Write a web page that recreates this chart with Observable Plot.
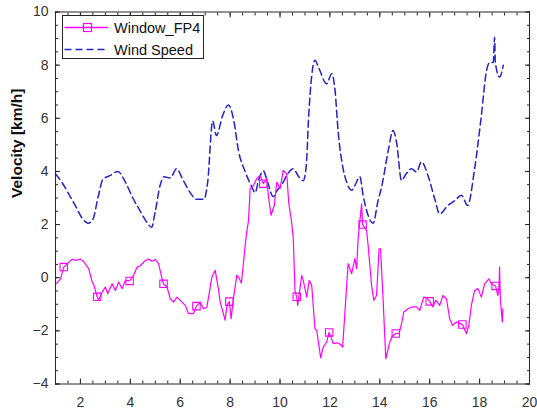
<!DOCTYPE html>
<html>
<head>
<meta charset="utf-8">
<script src="https://cdn.jsdelivr.net/npm/d3@7"></script>
<script src="https://cdn.jsdelivr.net/npm/@observablehq/plot@0.6"></script>
<style>
  html, body { margin: 0; padding: 0; background: #fff; }
  #wrap { position: relative; width: 537px; height: 410px; font-family: "Liberation Sans", Arial, sans-serif; }
  #legend { position: absolute; left: 62px; top: 15px; }
</style>
</head>
<body>
<div id="wrap"></div>
<script>
// ---- Data ----
const seriesNames = ["Window_FP4", "Wind Speed"];
const seriesColors = ["#ff00ff", "#2323c8"];

const windowX = [1.0,1.2,1.33,1.5,1.67,1.8,2.0,2.13,2.33,2.47,2.53,2.67,2.73,2.87,3.0,3.09,3.27,3.4,3.53,3.67,3.8,3.97,4.13,4.27,4.4,4.6,4.73,4.87,5.0,5.13,5.27,5.33,5.47,5.6,5.73,5.87,6.07,6.2,6.33,6.53,6.65,6.8,6.93,7.07,7.27,7.4,7.53,7.6,7.73,7.8,7.87,7.97,8.04,8.13,8.27,8.35,8.45,8.53,8.6,8.67,8.73,8.78,8.8,8.93,9.07,9.2,9.33,9.47,9.53,9.64,9.77,9.87,10.0,10.13,10.27,10.35,10.45,10.53,10.6,10.67,10.71,10.87,10.93,11.07,11.17,11.27,11.4,11.47,11.63,11.73,11.87,11.97,12.03,12.13,12.27,12.4,12.51,12.73,12.87,13.0,13.07,13.13,13.27,13.31,13.47,13.53,13.67,13.76,13.87,13.97,14.03,14.13,14.24,14.4,14.5,14.64,14.77,14.87,14.96,15.13,15.3,15.47,15.6,15.76,15.87,16.0,16.13,16.24,16.4,16.53,16.67,16.8,16.91,17.07,17.2,17.31,17.47,17.57,17.67,17.8,17.93,18.07,18.2,18.37,18.47,18.64,18.73,18.78,18.8,18.83,18.91,18.93];
const windowY = [-0.25,-0.05,0.4,0.55,0.7,0.65,0.7,0.6,0.34,-0.16,-0.25,-0.72,-0.85,-0.54,-0.35,-0.6,-0.23,-0.48,-0.16,-0.41,-0.1,-0.12,0.09,0.4,0.45,0.65,0.7,0.62,0.68,0.53,-0.04,-0.23,-0.35,-0.79,-0.92,-0.73,-0.92,-1.04,-1.35,-1.35,-1.07,-0.92,-1.17,-1.1,0.03,0.28,-0.41,-0.92,-1.35,-1.6,-1.04,-0.9,-1.54,-0.79,0.1,0.0,-0.2,0.5,1.2,1.75,2.1,2.9,3.35,3.47,3.73,3.85,3.54,3.73,3.1,2.35,2.72,3.6,3.35,4.04,3.9,2.8,2.2,1.5,-0.5,-0.72,-1.04,0.09,-0.1,-0.73,-0.1,-0.29,-1.92,-1.98,-3.02,-2.61,-2.42,-2.06,-2.2,-2.48,-2.45,-2.5,-2.61,0.53,0.15,0.72,0.34,1.47,2.78,2.0,1.78,1.22,-0.29,-0.85,-0.67,1.09,1.09,-0.79,-3.05,-2.42,-2.2,-2.1,-2.1,-1.73,-1.29,-1.17,-1.1,-1.1,-1.23,-0.73,-0.75,-0.89,-1.1,-0.85,-1.04,-0.67,-0.79,-1.54,-1.79,-1.67,-1.72,-1.76,-2.1,-1.79,-1.04,-0.48,-0.41,-0.73,-0.23,-0.04,-0.23,-0.31,-0.67,-0.4,0.4,-0.8,-1.67,-1.17];

const markerX = [1.33,2.67,3.97,5.33,6.65,7.97,9.33,10.67,11.97,13.31,14.64,16.0,17.31,18.64];
const markerY = [0.4,-0.72,-0.12,-0.23,-1.07,-0.9,3.54,-0.72,-2.06,2.0,-2.1,-0.89,-1.76,-0.31];

const windX = [1.0,1.25,1.5,1.8,2.1,2.3,2.5,2.7,2.9,3.2,3.5,3.8,4.1,4.4,4.65,4.85,5.0,5.2,5.35,5.6,5.85,6.1,6.4,6.65,6.95,7.1,7.3,7.45,7.7,7.93,8.15,8.33,8.6,8.87,9.0,9.15,9.33,9.5,9.73,9.9,10.07,10.3,10.53,10.75,10.93,11.05,11.15,11.27,11.4,11.55,11.87,12.07,12.2,12.33,12.53,12.67,12.87,13.0,13.2,13.33,13.53,13.73,13.93,14.07,14.33,14.53,14.67,14.87,15.05,15.27,15.47,15.67,15.93,16.2,16.4,16.73,17.0,17.27,17.52,17.8,18.07,18.27,18.4,18.55,18.6,18.63,18.8,18.95];
const windY = [3.9,3.6,3.2,2.7,2.2,2.05,2.2,3.0,3.7,3.85,4.0,3.6,3.0,2.5,2.1,1.9,2.5,3.5,3.8,3.75,4.1,3.7,3.2,2.95,2.95,3.6,5.9,5.35,6.1,6.5,5.9,4.8,4.0,3.42,3.2,3.7,4.02,3.6,3.05,3.3,3.5,3.9,4.1,3.8,3.65,4.2,6.1,7.6,8.18,7.9,7.3,7.68,7.1,5.5,4.1,3.6,3.29,3.47,3.8,3.1,2.35,2.05,2.9,3.4,4.74,5.54,5.1,3.66,3.9,4.1,3.98,4.36,3.85,2.97,2.4,2.72,2.9,3.1,2.72,4.1,6.1,7.75,8.1,8.1,9.05,8.1,7.55,8.0];

const xTickLabels = [2,4,6,8,10,12,14,16,18,20];
const yTickLabels = [-4,-2,0,2,4,6,8,10];
const xMinorTicks = d3.range(1, 20.001, 0.5);
const yMinorTicks = d3.range(-4, 10.001, 0.5);
const yLabel = "Velocity [km/h]";

// ---- Build tables ----
const windowData = windowX.map((x, i) => ({x, y: windowY[i]}));
const markerData = markerX.map((x, i) => ({x, y: markerY[i]}));
const windData = windX.map((x, i) => ({x, y: windY[i]}));

const axisColor = "#262626";
const blank = () => "";

const chart = Plot.plot({
  width: 537,
  height: 410,
  marginLeft: 55,
  marginRight: 8,
  marginTop: 11.5,
  marginBottom: 26.5,
  style: {fontFamily: '"Liberation Sans", Arial, sans-serif', background: "#fff"},
  x: {domain: [1, 20]},
  y: {domain: [-4, 10]},
  marks: [
    Plot.line(windData, {x: "x", y: "y", stroke: seriesColors[1], strokeWidth: 1.5, strokeDasharray: "7,4", curve: "monotone-x"}),
    Plot.line(windowData, {x: "x", y: "y", stroke: seriesColors[0], strokeWidth: 1.2}),
    Plot.dot(markerData, {x: "x", y: "y", symbol: "square", r: 4.2, stroke: seriesColors[0], strokeWidth: 1.1, fill: "none"}),
    Plot.frame({stroke: axisColor, strokeWidth: 1}),
    // minor ticks
    Plot.axisX(xMinorTicks, {anchor: "bottom", tickSize: -3, tickFormat: blank, label: null, stroke: axisColor}),
    Plot.axisX(xMinorTicks, {anchor: "top", tickSize: -3, tickFormat: blank, label: null, stroke: axisColor}),
    Plot.axisY(yMinorTicks, {anchor: "left", tickSize: -3, tickFormat: blank, label: null, stroke: axisColor}),
    Plot.axisY(yMinorTicks, {anchor: "right", tickSize: -3, tickFormat: blank, label: null, stroke: axisColor}),
    // major ticks with labels
    Plot.axisX(xTickLabels, {anchor: "bottom", tickSize: -5, tickPadding: 18, fontSize: 14, label: null, stroke: axisColor, fill: "#333"}),
    Plot.axisX(xTickLabels, {anchor: "top", tickSize: -5, tickFormat: blank, label: null, stroke: axisColor}),
    Plot.axisY(yTickLabels, {anchor: "left", tickSize: -5, tickPadding: 12, fontSize: 14, label: null, stroke: axisColor, fill: "#333"}),
    Plot.axisY(yTickLabels, {anchor: "right", tickSize: -5, tickFormat: blank, label: null, stroke: axisColor}),
    Plot.text([yLabel], {frameAnchor: "left", rotate: -90, dx: -38, fontWeight: "bold", fontSize: 15.5, fill: "#111"})
  ]
});

const wrap = document.getElementById("wrap");
wrap.appendChild(chart);

// ---- Legend (inside plot area, top-left) ----
const ns = "http://www.w3.org/2000/svg";
const lg = document.createElementNS(ns, "svg");
lg.setAttribute("id", "legend");
lg.setAttribute("width", 142);
lg.setAttribute("height", 44);
const rect = document.createElementNS(ns, "rect");
rect.setAttribute("x", 0.5); rect.setAttribute("y", 0.5);
rect.setAttribute("width", 141); rect.setAttribute("height", 43);
rect.setAttribute("fill", "#fff"); rect.setAttribute("stroke", axisColor);
lg.appendChild(rect);
const rows = [12.5, 34.5];
seriesNames.forEach((name, i) => {
  const y = rows[i];
  const ln = document.createElementNS(ns, "line");
  ln.setAttribute("x1", 2.5); ln.setAttribute("x2", 46);
  ln.setAttribute("y1", y); ln.setAttribute("y2", y);
  ln.setAttribute("stroke", seriesColors[i]);
  ln.setAttribute("stroke-width", 1.5);
  if (i === 1) ln.setAttribute("stroke-dasharray", "7,4");
  lg.appendChild(ln);
  if (i === 0) {
    const sq = document.createElementNS(ns, "rect");
    sq.setAttribute("x", 21.5); sq.setAttribute("y", y - 4);
    sq.setAttribute("width", 8); sq.setAttribute("height", 8);
    sq.setAttribute("fill", "none"); sq.setAttribute("stroke", seriesColors[0]);
    sq.setAttribute("stroke-width", 1.2);
    lg.appendChild(sq);
  }
  const t = document.createElementNS(ns, "text");
  t.setAttribute("x", 52); t.setAttribute("y", y);
  t.setAttribute("dominant-baseline", "central");
  t.setAttribute("font-size", "14.5");
  t.setAttribute("font-family", '"Liberation Sans", Arial, sans-serif');
  t.setAttribute("fill", "#111");
  t.textContent = name;
  lg.appendChild(t);
});
wrap.appendChild(lg);
</script>
</body>
</html>
